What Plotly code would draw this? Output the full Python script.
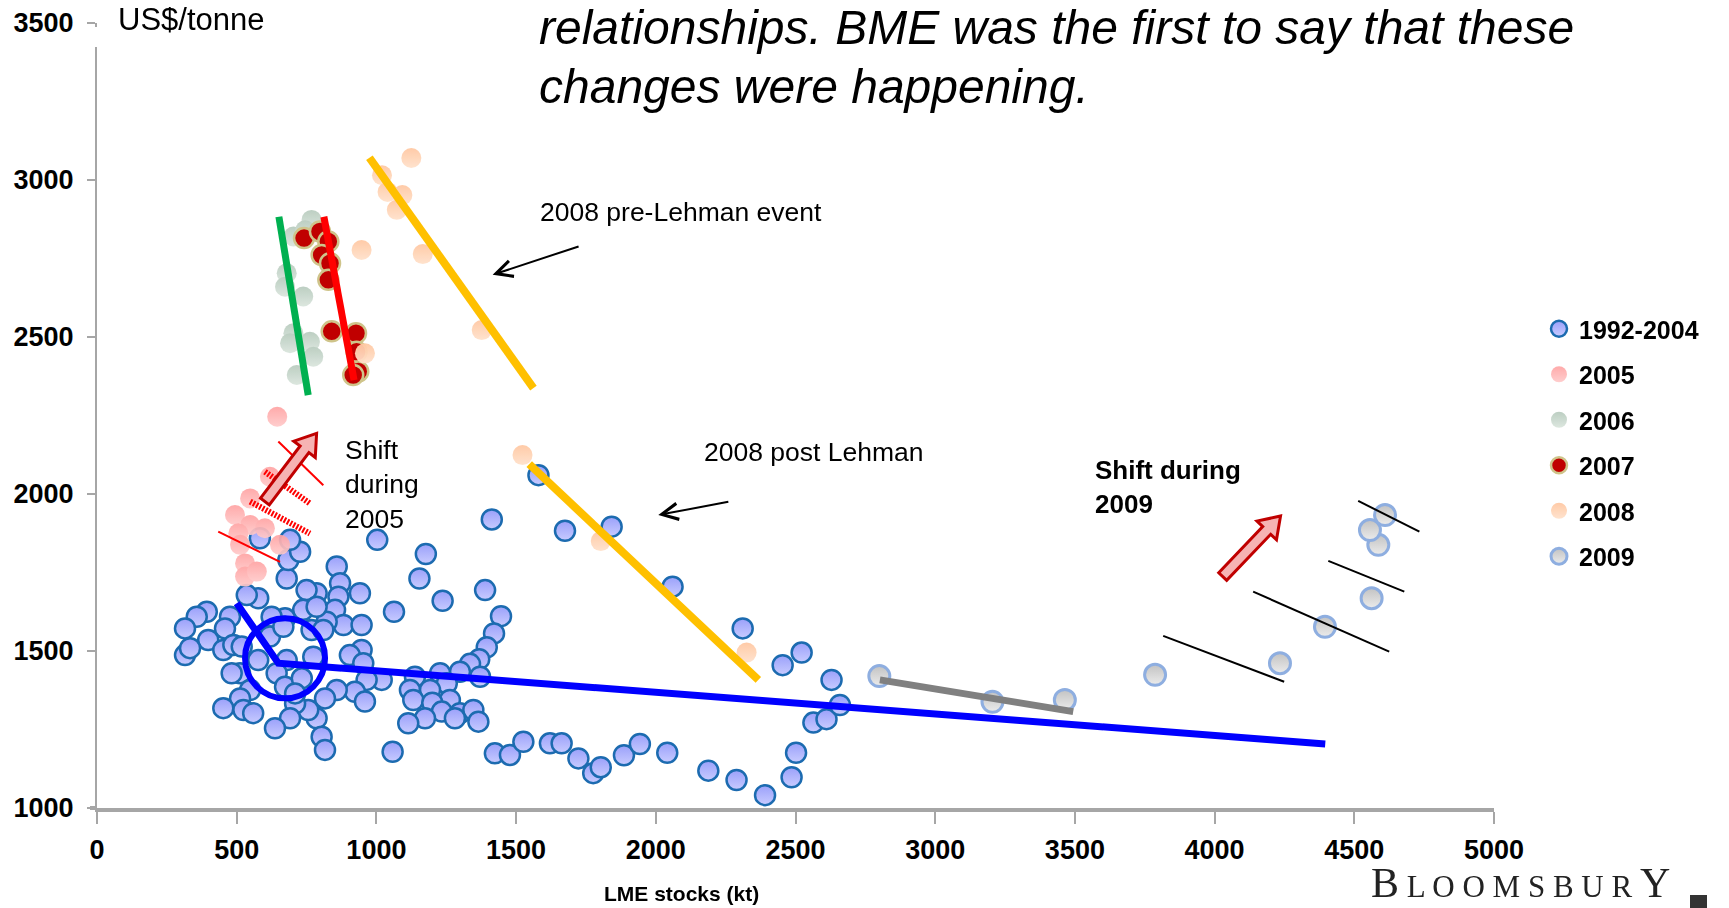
import plotly.graph_objects as go

# ---------------- data (LME stocks kt, price US$/tonne) ----------------
stocks_1992_2004 = [1003, 1413, 1675, 1177, 1154, 1389, 1237, 1063, 1446, 1421, 1395, 1368, 1335, 1371, 1299,
                    1138, 1228, 1252, 1120, 1192, 1263, 1132, 1200, 1234, 1299, 1347, 1365, 1281, 1174, 1114,
                    1058, 1424, 1478, 1526, 1621, 1663, 1723, 1776, 1803, 1886, 1943, 2041, 2188, 2289, 2391,
                    2486, 2502, 2564, 2611, 2659, 2629, 2522, 2454, 2311, 2060, 1842, 1580, 947, 905, 953,
                    1019, 965, 923, 959, 858, 816, 786, 804, 816, 756, 709, 691, 637, 858, 870, 864, 852, 941,
                    882, 947, 822, 786, 750, 679, 685, 727, 691, 583, 738, 768, 810, 673, 625, 786, 679, 774,
                    643, 673, 733, 577, 619, 667, 709, 577, 536, 476, 458, 393, 357, 315, 398, 452, 488, 518,
                    315, 333, 512, 548, 512, 452, 524, 559, 482]
price_1992_2004 = [1854, 1919, 1883, 1809, 1731, 1694, 1660, 1625, 1611, 1556, 1512, 1474, 1459, 1418, 1434,
                   1418, 1429, 1397, 1376, 1376, 1344, 1344, 1335, 1307, 1302, 1312, 1275, 1286, 1286, 1270,
                   1179, 1174, 1169, 1211, 1206, 1206, 1158, 1111, 1130, 1168, 1204, 1176, 1119, 1089, 1041,
                   1098, 1176, 1272, 1283, 1328, 1408, 1495, 1455, 1572, 1705, 1896, 2060, 1503, 1487, 1461,
                   1408, 1408, 1370, 1339, 1376, 1349, 1286, 1227, 1185, 1312, 1333, 1286, 1254, 1769, 1716,
                   1673, 1631, 1684, 1583, 1583, 1593, 1684, 1694, 1731, 1790, 1816, 1854, 1859, 1631, 1567,
                   1567, 1604, 1609, 1641, 1471, 1482, 1429, 1386, 1413, 1471, 1546, 1577, 1365, 1668, 1678,
                   1609, 1572, 1625, 1609, 1572, 1535, 1503, 1519, 1514, 1487, 1509, 1429, 1376, 1349, 1318,
                   1312, 1302, 1429]

stocks_2005 = [645, 619, 548, 494, 548, 601, 506, 512, 655, 530, 530, 572]
price_2005 = [2246, 2055, 1986, 1933, 1901, 1891, 1875, 1838, 1838, 1779, 1737, 1753]

stocks_2006 = [768, 703, 679, 673, 738, 703, 691, 762, 774, 715, 745]
price_2006 = [2873, 2820, 2703, 2660, 2629, 2512, 2480, 2485, 2437, 2379, 2840]

stocks_2007 = [741, 798, 828, 804, 834, 828, 840, 927, 929, 935, 917]
price_2007 = [2815, 2836, 2804, 2761, 2735, 2682, 2518, 2512, 2453, 2390, 2379]

stocks_2008 = [1020, 1040, 1093, 1073, 1125, 947, 1166, 1377, 959, 1523, 1803, 2325]
price_2008 = [3015, 2962, 2952, 2905, 3070, 2777, 2764, 2522, 2448, 2124, 1850, 1495]

stocks_2009 = [2800, 3205, 3464, 3787, 4234, 4395, 4562, 4586, 4556, 4610]
price_2009 = [1420, 1338, 1344, 1424, 1461, 1577, 1668, 1838, 1885, 1933]

series_names = ["1992-2004", "2005", "2006", "2007", "2008", "2009"]

x_ticks = [0, 500, 1000, 1500, 2000, 2500, 3000, 3500, 4000, 4500, 5000]
y_ticks = [1000, 1500, 2000, 2500, 3000, 3500]

# trend lines (stocks, price)
green_line_x, green_line_y = [651, 756], [2883, 2315]
red_line_x, red_line_y = [812, 920], [2883, 2363]
pre_lehman_x, pre_lehman_y = [975, 1562], [3071, 2337]
post_lehman_x, post_lehman_y = [1547, 2367], [2095, 1408]
blue_line_x, blue_line_y = [500, 649, 4396], [1652, 1461, 1204]
gray_line_x, gray_line_y = [2802, 3494], [1408, 1307]
circle_center, circle_radius_px = (673, 1477), 40

# annotation guides
hatch_thin = [((649, 2167), (810, 2028)), ((434, 1880), (655, 1784))]
hatch_comb = [((601, 2071), (762, 1970)), ((548, 1976), (762, 1874))]
shift_2009_lines = [((4514, 1978), (4733, 1880)), ((4407, 1787), (4679, 1689)),
                    ((4138, 1689), (4625, 1498)), ((3816, 1548), (4249, 1402))]
block_arrows = [((601, 1976), (786, 2193)), ((4029, 1737), (4236, 1930))]
pointer_arrows = [((1729, 2790), (1416, 2698)), ((2265, 1976), (2009, 1933))]

# ---------------- layout geometry ----------------
W, H = 1729, 908
REF_L, REF_R, REF_T, REF_B = 97, 1494, 23, 808   # plot area on screen (page margin removed)
PW, PH = REF_R - REF_L, REF_B - REF_T
ML, MT = REF_L, REF_T
MR, MB = W - ML - PW, H - MT - PH
XR, YR = (0, 5000), (1000, 3500)
KX = PW / (XR[1] - XR[0])   # px per kt
KY = PH / (YR[1] - YR[0])   # px per $


def pxx(px):  # screen pixel -> paper x
    return (px - REF_L) / PW


def pxy(py):  # screen pixel -> paper y
    return (REF_B - py) / PH


FONT = "Liberation Sans, Arial, sans-serif"

fig = go.Figure()

styles = [
    dict(color="#9aa0fa", size=20, line=dict(color="#1c6bb0", width=2.5),
         gradient=dict(type="vertical", color="#c8cbff")),
    dict(color="#ffa3a3", size=20, line=dict(width=0), opacity=0.92,
         gradient=dict(type="vertical", color="#ffcaca")),
    dict(color="#b9ccbf", size=20, line=dict(width=0), opacity=0.95,
         gradient=dict(type="vertical", color="#dbe6de")),
    dict(color="#c00000", size=20, line=dict(color="#cfc48a", width=2.5)),
    dict(color="#ffc8a3", size=20, line=dict(width=0), opacity=0.95,
         gradient=dict(type="vertical", color="#ffe2cc")),
    dict(color="#c2c2c2", size=21, line=dict(color="#8eaee0", width=3),
         gradient=dict(type="vertical", color="#ececec")),
]
xs = [stocks_1992_2004, stocks_2005, stocks_2006, stocks_2007, stocks_2008, stocks_2009]
ys = [price_1992_2004, price_2005, price_2006, price_2007, price_2008, price_2009]

for name, sx, sy, st in zip(series_names, xs, ys, styles):
    op = st.pop("opacity", 1.0)
    fig.add_trace(go.Scatter(x=sx, y=sy, mode="markers", name=name, legendgroup=name,
                             marker=st, opacity=op, hoverinfo="x+y+name"))


def add_line(x, y, color, width):
    fig.add_trace(go.Scatter(x=x, y=y, mode="lines", showlegend=False, hoverinfo="skip",
                             line=dict(color=color, width=width)))


add_line(green_line_x, green_line_y, "#00b050", 7)
add_line(red_line_x, red_line_y, "#ff0000", 7)
add_line(pre_lehman_x, pre_lehman_y, "#ffc000", 8)
add_line(post_lehman_x, post_lehman_y, "#ffc000", 8)
add_line(blue_line_x, blue_line_y, "#0000ff", 7)
add_line(gray_line_x, gray_line_y, "#808080", 7)

shapes = []
cx, cy = circle_center
rx, ry = circle_radius_px / KX, circle_radius_px / KY
shapes.append(dict(type="circle", xref="x", yref="y", x0=cx - rx, x1=cx + rx, y0=cy - ry, y1=cy + ry,
                   line=dict(color="#0000ff", width=6), layer="above"))

for (a, b) in hatch_thin:
    shapes.append(dict(type="line", xref="x", yref="y", x0=a[0], y0=a[1], x1=b[0], y1=b[1],
                       line=dict(color="#ff0000", width=2), layer="above"))
for (a, b) in hatch_comb:
    shapes.append(dict(type="line", xref="x", yref="y", x0=a[0], y0=a[1], x1=b[0], y1=b[1],
                       line=dict(color="#ff0000", width=6, dash="2px,1.5px"), layer="above"))
for (a, b) in shift_2009_lines:
    shapes.append(dict(type="line", xref="x", yref="y", x0=a[0], y0=a[1], x1=b[0], y1=b[1],
                       line=dict(color="#000000", width=2), layer="above"))


def block_arrow_path(tail, tip, shaft=11.0, head=27.0, headlen=20.0):
    X0, Y0 = tail[0] * KX, tail[1] * KY
    X1, Y1 = tip[0] * KX, tip[1] * KY
    L = ((X1 - X0) ** 2 + (Y1 - Y0) ** 2) ** 0.5
    dx, dy = (X1 - X0) / L, (Y1 - Y0) / L
    nx, ny = -dy, dx
    NX, NY = X1 - dx * headlen, Y1 - dy * headlen
    pts = [(X0 + nx * shaft / 2, Y0 + ny * shaft / 2),
           (NX + nx * shaft / 2, NY + ny * shaft / 2),
           (NX + nx * head / 2, NY + ny * head / 2),
           (X1, Y1),
           (NX - nx * head / 2, NY - ny * head / 2),
           (NX - nx * shaft / 2, NY - ny * shaft / 2),
           (X0 - nx * shaft / 2, Y0 - ny * shaft / 2)]
    return "M" + " L".join(f"{px / KX:.2f},{py / KY:.2f}" for px, py in pts) + " Z"


for tail, tip in block_arrows:
    shapes.append(dict(type="path", xref="x", yref="y", path=block_arrow_path(tail, tip),
                       fillcolor="#f6b3b3", line=dict(color="#c00000", width=3), layer="above"))

# small gap at the top of the y-axis line and x-axis stub left of the y-axis
shapes.append(dict(type="rect", xref="paper", yref="paper", x0=pxx(95), x1=pxx(99),
                   y0=pxy(47), y1=pxy(27), fillcolor="#ffffff", line=dict(width=0), layer="above"))
shapes.append(dict(type="line", xref="paper", yref="paper", x0=pxx(90), x1=0, y0=0, y1=0,
                   line=dict(color="#a6a6a6", width=4)))

# black square of the logo
shapes.append(dict(type="rect", xref="paper", yref="paper",
                   x0=pxx(1690), x1=pxx(1707), y0=pxy(908), y1=pxy(895),
                   fillcolor="#333333", line=dict(width=0)))

annotations = []
for tail, head in pointer_arrows:
    annotations.append(dict(x=head[0], y=head[1], ax=tail[0], ay=tail[1], xref="x", yref="y",
                            axref="x", ayref="y", text="", showarrow=True, arrowhead=5,
                            arrowsize=1.6, arrowwidth=2, arrowcolor="#000000"))

txt_font = dict(family=FONT, size=26.5, color="#000000")
annotations += [
    dict(x=1578, y=2898, xref="x", yref="y", text="2008 pre-Lehman event", showarrow=False,
         xanchor="left", yanchor="middle", font=txt_font),
    dict(x=2165, y=2134, xref="x", yref="y", text="2008 post Lehman", showarrow=False,
         xanchor="left", yanchor="middle", font=txt_font),
    dict(x=880, y=2029, xref="x", yref="y", text="Shift<br>during<br>2005", showarrow=False,
         xanchor="left", yanchor="middle", align="left", font=txt_font),
    dict(x=3566, y=2021, xref="x", yref="y", text="<b>Shift during<br>2009</b>", showarrow=False,
         xanchor="left", yanchor="middle", align="left",
         font=dict(family=FONT, size=26, color="#000000")),
    dict(x=pxx(538), y=pxy(0.5), xref="paper", yref="paper",
         text="<i>relationships. BME was the first to say that these</i>",
         showarrow=False, xanchor="left", yanchor="top", borderpad=0,
         font=dict(family=FONT, size=48, color="#000000")),
    dict(x=pxx(538), y=pxy(87), xref="paper", yref="paper",
         text="<i>changes were happening.</i>",
         showarrow=False, xanchor="left", yanchor="middle", borderpad=0,
         font=dict(family=FONT, size=48, color="#000000")),
    dict(x=pxx(117), y=pxy(1.5), xref="paper", yref="paper",
         text="US$/tonne", showarrow=False, xanchor="left", yanchor="top", borderpad=0,
         font=dict(family=FONT, size=31, color="#000000")),
    dict(x=pxx(681), y=pxy(893), xref="paper", yref="paper",
         text="<b>LME stocks (kt)</b>", showarrow=False, xanchor="center", yanchor="middle",
         font=dict(family=FONT, size=21, color="#000000")),
    dict(x=pxx(1370), y=pxy(907), xref="paper", yref="paper",
         text="B<span style='font-size:31px'> L O O M S B U R </span>Y", showarrow=False,
         xanchor="left", yanchor="bottom", borderpad=0,
         font=dict(family="Liberation Serif, DejaVu Serif, serif", size=42, color="#222222")),
]

tick_font = dict(family=FONT, size=27, color="#000000", weight="bold")

fig.update_layout(
    template="none",
    width=W, height=H,
    margin=dict(l=ML, r=MR, t=MT, b=MB, pad=0, autoexpand=False),
    paper_bgcolor="#ffffff", plot_bgcolor="#ffffff",
    showlegend=True,
    legend=dict(x=pxx(1539), y=pxy(306),
                xanchor="left", yanchor="top", traceorder="grouped", tracegroupgap=10,
                font=dict(family=FONT, size=25, color="#000000", weight="bold"),
                bgcolor="rgba(0,0,0,0)", borderwidth=0, itemclick=False),
    xaxis=dict(range=list(XR), tickvals=x_ticks, ticktext=[str(v) for v in x_ticks],
               automargin=False,
               showline=True, linecolor="#a6a6a6", linewidth=4, ticks="outside", ticklen=12,
               tickwidth=2, tickcolor="#a6a6a6", showgrid=False, zeroline=False,
               tickfont=tick_font, ticklabelstandoff=3),
    yaxis=dict(range=list(YR), tickvals=y_ticks, ticktext=[str(v) for v in y_ticks],
               automargin=False,
               showline=True, linecolor="#a6a6a6", linewidth=2, ticks="outside", ticklen=8,
               tickwidth=2, tickcolor="#a6a6a6", showgrid=False, zeroline=False,
               tickfont=tick_font, ticklabelstandoff=8),
    shapes=shapes,
    annotations=annotations,
)

fig.write_html("out.html", config={"displayModeBar": False},
               post_script="document.body.style.margin='0';document.body.style.overflow='hidden';")
